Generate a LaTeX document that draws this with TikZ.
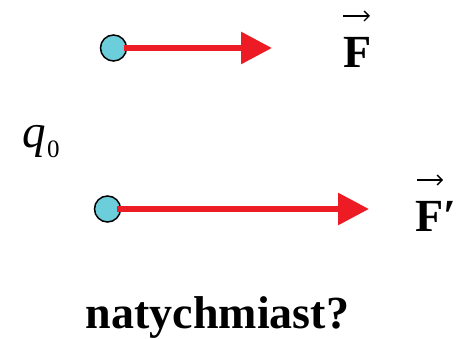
\documentclass[tikz,border=0pt]{standalone}
\usepackage{fontspec}
\setmainfont{Liberation Serif}
\usetikzlibrary{arrows.meta}
\definecolor{chargecyan}{HTML}{6CCDDB}
\definecolor{forcered}{HTML}{ED1C24}
\tikzset{
  charge/.style={circle, draw=black, line width=1.5pt, fill=chargecyan, minimum size=26pt, inner sep=0pt},
  force/.style={draw=forcered, line width=6pt, -{Triangle[length=31pt,width=31pt]}},
  lbl/.style={inner sep=0pt, anchor=base west},
  vecline/.style={draw=black, line width=1.3pt, -{Straight Barb[length=5pt,width=10pt]}},
  bigbold/.style={font=\bfseries\fontsize{46}{46}\selectfont}
}
\begin{document}
\begin{tikzpicture}[x=1pt,y=1pt]
\useasboundingbox (0,0) rectangle (457,339);
% top charge and force
\node[charge] (c1) at (113.5,291) {};
\coordinate (t1) at (272,291);
\draw[force] ([xshift=10pt]c1.center) -- (t1);
% bottom charge and force
\node[charge] (c2) at (107.5,130) {};
\coordinate (t2) at (369,130);
\draw[force] ([xshift=9pt]c2.center) -- (t2);
% labels
\node[lbl, bigbold] (F) at (343,271) {F};
\coordinate (vFa) at (343,323);
\coordinate (vFb) at (370,323);
\draw[vecline] (vFa) -- (vFb);
\node[lbl, bigbold] (Fp) at (415,107) {F′};
\coordinate (vFpa) at (417,159);
\coordinate (vFpb) at (443,159);
\draw[vecline] (vFpa) -- (vFpb);
\node[lbl, font=\itshape\fontsize{47}{47}\selectfont] (q) at (22,191) {q};
\node[lbl, font=\fontsize{25}{25}\selectfont] (q0) at (47,181) {0};
\node[inner sep=0pt, anchor=base, bigbold] (txt) at (217.5,10) {natychmiast?};
\end{tikzpicture}
\end{document}
